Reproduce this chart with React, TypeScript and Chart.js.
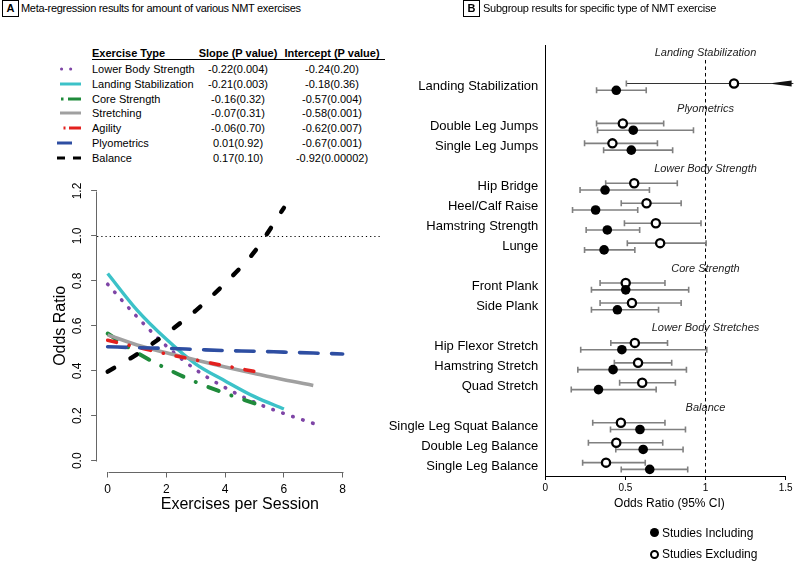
import React, { useEffect, useRef } from "react";
import { Chart, registerables } from "chart.js";

Chart.register(...registerables);

const FONT = "'Liberation Sans', Arial, Helvetica, sans-serif";
Chart.defaults.font.family = FONT;
Chart.defaults.color = "#000";

// ---------------- Panel A data ----------------
const exercisesPerSession = [0, 1, 2, 3, 4, 5, 6, 7, 8];
const exerciseTypes = [
  "Lower Body Strength",
  "Landing Stabilization",
  "Core Strength",
  "Stretching",
  "Agility",
  "Plyometrics",
  "Balance",
];
const lowerBodyStrengthOR = [0.785, 0.64, 0.51, 0.405, 0.325, 0.26, 0.21, 0.166];
const landingStabilizationOR = [0.833, 0.67, 0.54, 0.43, 0.355, 0.285, 0.23];
const coreStrengthOR = [0.566, 0.48, 0.41, 0.35, 0.3, 0.255];
const stretchingOR = [0.56, 0.515, 0.48, 0.448, 0.417, 0.388, 0.36, 0.335];
const agilityOR = [0.536, 0.505, 0.475, 0.448, 0.422, 0.397];
const plyometricsOR = [0.507, 0.503, 0.5, 0.495, 0.49, 0.487, 0.483, 0.479, 0.475];
const balanceOR = [0.396, 0.474, 0.566, 0.668, 0.79, 0.93, 1.125];
const slopeText = ["-0.22(0.004)", "-0.21(0.003)", "-0.16(0.32)", "-0.07(0.31)", "-0.06(0.70)", "0.01(0.92)", "0.17(0.10)"];
const interceptText = ["-0.24(0.20)", "-0.18(0.36)", "-0.57(0.004)", "-0.58(0.001)", "-0.62(0.007)", "-0.67(0.001)", "-0.92(0.00002)"];
const exercisesTicks = [0, 2, 4, 6, 8];
const oddsRatioTicks = [0, 0.2, 0.4, 0.6, 0.8, 1.0, 1.2];
const nullOddsRatio = 1;

// ---------------- Panel B data ----------------
const subgroupHeaders = [
  "Landing Stabilization",
  "Plyometrics",
  "Lower Body Strength",
  "Core Strength",
  "Lower Body Stretches",
  "Balance",
];
const exerciseNames = [
  "Landing Stabilization",
  "Double Leg Jumps",
  "Single Leg Jumps",
  "Hip Bridge",
  "Heel/Calf Raise",
  "Hamstring Strength",
  "Lunge",
  "Front Plank",
  "Side Plank",
  "Hip Flexor Stretch",
  "Hamstring Stretch",
  "Quad Stretch",
  "Single Leg Squat Balance",
  "Double Leg Balance",
  "Single Leg Balance",
];
const exerciseSubgroup = [0, 1, 1, 2, 2, 2, 2, 3, 3, 4, 4, 4, 5, 5, 5];
const includingOR = [0.443, 0.549, 0.537, 0.373, 0.314, 0.387, 0.367, 0.502, 0.45, 0.478, 0.423, 0.332, 0.591, 0.611, 0.652];
const includingLower = [0.32, 0.326, 0.364, 0.217, 0.17, 0.255, 0.245, 0.288, 0.288, 0.221, 0.203, 0.162, 0.407, 0.44, 0.474];
const includingUpper = [0.63, 0.925, 0.795, 0.65, 0.577, 0.589, 0.559, 0.895, 0.707, 1.008, 0.881, 0.692, 0.875, 0.86, 0.889];
const excludingOR = [1.178, 0.484, 0.419, 0.555, 0.632, 0.69, 0.717, 0.502, 0.541, 0.559, 0.579, 0.605, 0.472, 0.443, 0.379];
const excludingLower = [0.506, 0.32, 0.245, 0.377, 0.474, 0.494, 0.512, 0.342, 0.342, 0.409, 0.431, 0.464, 0.296, 0.269, 0.233];
// null = upper limit beyond the axis (drawn with an arrow)
const excludingUpper: (number | null)[] = [null, 0.739, 0.7, 0.824, 0.848, 0.972, 1.004, 0.747, 0.848, 0.763, 0.789, 0.812, 0.747, 0.733, 0.624];
const forestTicks = [0, 0.5, 1, 1.5];

// ---------------- styles ----------------
const seriesColors = ["#7E45A6", "#3CC2C8", "#1F8B3B", "#A0A0A0", "#E3201E", "#2E4EA2", "#000000"];
const seriesWidths = [3.6, 3.4, 4, 3.6, 3.6, 3.6, 4.4];
const seriesDash: number[][] = [[0.5, 10], [], [11, 13.5, 0.1, 13.5], [], [9, 13, 0.1, 13], [18.5, 13.5], [7.5, 19]];
const legendSample = [
  { x1: 61.5, x2: 79.6, dash: "0.1 9", cap: "round" },
  { x1: 60, x2: 81, dash: "", cap: "butt" },
  { x1: 61, x2: 81, dash: "2.5 4.5 13.5 99", cap: "butt" },
  { x1: 60, x2: 81, dash: "", cap: "butt" },
  { x1: 63.5, x2: 81, dash: "2 3.5 12 99", cap: "butt" },
  { x1: 57, x2: 72, dash: "", cap: "butt" },
  { x1: 57, x2: 81, dash: "8 8", cap: "butt" },
];
const seriesValues = [
  lowerBodyStrengthOR,
  landingStabilizationOR,
  coreStrengthOR,
  stretchingOR,
  agilityOR,
  plyometricsOR,
  balanceOR,
];

// ---------------- Panel A chart ----------------
const axisDecorPlugin = {
  id: "axisDecor",
  beforeDatasetsDraw(chart: any, _a: any, opts: any) {
    const { ctx, chartArea, scales } = chart;
    if (opts.refY !== undefined) {
      const y = Math.round(scales.y.getPixelForValue(opts.refY)) + 0.5;
      ctx.save();
      ctx.strokeStyle = "#000";
      ctx.lineWidth = 1;
      ctx.setLineDash([1.2, 3]);
      ctx.beginPath();
      ctx.moveTo(chartArea.left, y);
      ctx.lineTo(chartArea.right, y);
      ctx.stroke();
      ctx.restore();
    }
  },
  afterDraw(chart: any, _a: any, opts: any) {
    const { ctx, chartArea, scales } = chart;
    ctx.save();
    ctx.strokeStyle = opts.color || "#000";
    ctx.lineWidth = 1;
    if (opts.xLine) {
      const t = scales.x.ticks;
      const y = Math.round(chartArea.bottom) + 0.5;
      ctx.beginPath();
      ctx.moveTo(Math.round(scales.x.getPixelForValue(t[0].value)) + 0.5, y);
      ctx.lineTo(Math.round(scales.x.getPixelForValue(t[t.length - 1].value)) + 0.5, y);
      ctx.stroke();
    }
    if (opts.yLine) {
      const t = scales.y.ticks;
      const x = Math.round(chartArea.left) - 0.5;
      ctx.beginPath();
      ctx.moveTo(x, Math.round(scales.y.getPixelForValue(t[0].value)) + 0.5);
      ctx.lineTo(x, Math.round(scales.y.getPixelForValue(t[t.length - 1].value)) + 0.5);
      ctx.stroke();
    }
    ctx.restore();
  },
};

function makeLeftConfig(): any {
  return {
    type: "line",
    data: {
      datasets: exerciseTypes.map((name, i) => ({
        label: name,
        data: seriesValues[i].map((v, j) => ({ x: exercisesPerSession[j], y: v })),
        borderColor: seriesColors[i],
        borderWidth: seriesWidths[i],
        borderDash: seriesDash[i],
        borderCapStyle: seriesDash[i].length ? "round" : "butt",
        pointRadius: 0,
        cubicInterpolationMode: "monotone",
        fill: false,
        order: exerciseTypes.length - i,
      })),
    },
    options: {
      animation: false,
      responsive: false,
      layout: { padding: { left: 0, top: 20.2, right: 17.4, bottom: 0 } },
      plugins: {
        legend: { display: false },
        tooltip: { enabled: false },
        axisDecor: { refY: nullOddsRatio, xLine: true, yLine: true, color: "#666" },
      },
      scales: {
        x: {
          type: "linear",
          min: -0.36,
          max: 9.36,
          afterBuildTicks: (s: any) => {
            s.ticks = exercisesTicks.map((value) => ({ value }));
          },
          afterFit: (s: any) => {
            s.height = 90.5;
          },
          grid: { drawOnChartArea: false, drawTicks: true, tickLength: 6, color: "#666" },
          border: { display: false },
          ticks: {
            font: { size: 12 },
            color: "#000",
            padding: 5,
            autoSkip: false,
            maxRotation: 0,
            callback: (v: any) => String(v),
          },
          title: {
            display: true,
            text: "Exercises per Session",
            font: { size: 16 },
            color: "#000",
            padding: { top: 0, bottom: 47.4 },
          },
        },
        y: {
          type: "linear",
          min: -0.048,
          max: 1.248,
          afterBuildTicks: (s: any) => {
            s.ticks = oddsRatioTicks.map((value) => ({ value }));
          },
          afterFit: (s: any) => {
            s.width = 97.1;
          },
          grid: { drawOnChartArea: false, drawTicks: true, tickLength: 6, color: "#666" },
          border: { display: false },
          ticks: {
            font: { size: 12 },
            color: "#000",
            padding: 5,
            autoSkip: false,
            minRotation: 90,
            maxRotation: 90,
            crossAlign: "center",
            callback: (v: any) => Number(v).toFixed(1),
          },
          title: {
            display: true,
            text: "Odds Ratio",
            font: { size: 16 },
            color: "#000",
            padding: { top: 51.4, bottom: 0 },
          },
        },
      },
    },
    plugins: [axisDecorPlugin],
  };
}

// ---------------- Panel B chart ----------------
const headerGap = [2, 1, 1, 1, 1, 1];
function computeSlots() {
  const headerSlots: number[] = [];
  const rowSlots: number[] = [];
  let slot = 0;
  subgroupHeaders.forEach((_h, g) => {
    headerSlots.push(slot);
    slot += headerGap[g];
    exerciseSubgroup.forEach((sg) => {
      if (sg === g) rowSlots.push(slot++);
    });
  });
  return { headerSlots, rowSlots };
}
const { headerSlots, rowSlots } = computeSlots();
const EXCL_SHIFT = -0.17;
const INCL_SHIFT = 0.17;
const FOREST_MAX = 1.55;

const forestPlugin = {
  id: "forestDecor",
  beforeDatasetsDraw(chart: any) {
    const { ctx, chartArea, scales } = chart;
    const x = Math.round(scales.x.getPixelForValue(nullOddsRatio)) + 0.5;
    ctx.save();
    ctx.strokeStyle = "#000";
    ctx.lineWidth = 1;
    ctx.setLineDash([3.5, 3]);
    ctx.beginPath();
    ctx.moveTo(x, scales.y.getPixelForValue(headerSlots[0] + 0.65));
    ctx.lineTo(x, chartArea.bottom);
    ctx.stroke();
    ctx.setLineDash([]);
    ctx.fillStyle = "#222";
    ctx.font = `italic 11px ${FONT}`;
    ctx.textAlign = "center";
    ctx.textBaseline = "middle";
    subgroupHeaders.forEach((h, g) => {
      const y = scales.y.getPixelForValue(headerSlots[g] + (g === 0 ? 0.28 : 0.1));
      ctx.fillText(h, x, y);
    });
    ctx.restore();
  },
  afterDatasetsDraw(chart: any) {
    const { ctx, chartArea, scales } = chart;
    ctx.save();
    ctx.fillStyle = "#111";
    excludingUpper.forEach((u, i) => {
      if (u !== null) return;
      const y = scales.y.getPixelForValue(rowSlots[i] + EXCL_SHIFT);
      const xe = chartArea.right - 2;
      ctx.beginPath();
      ctx.moveTo(xe - 19, y - 0.6);
      ctx.lineTo(xe, y - 3);
      ctx.lineTo(xe, y + 3);
      ctx.lineTo(xe - 19, y + 0.6);
      ctx.closePath();
      ctx.fill();
    });
    ctx.restore();
  },
  afterDraw(chart: any) {
    const { ctx, chartArea, scales } = chart;
    const t = scales.x.ticks;
    const y = Math.round(chartArea.bottom) + 0.5;
    ctx.save();
    ctx.strokeStyle = "#000";
    ctx.lineWidth = 1;
    ctx.beginPath();
    ctx.moveTo(scales.x.getPixelForValue(t[0].value), y);
    ctx.lineTo(scales.x.getPixelForValue(t[t.length - 1].value), y);
    ctx.stroke();
    ctx.restore();
  },
};

function makeRightConfig(): any {
  const ciDatasets: any[] = [];
  exerciseNames.forEach((name, i) => {
    const offscale = excludingUpper[i] === null;
    ciDatasets.push({
      type: "line",
      label: `${name} excluding CI`,
      data: [
        { x: excludingLower[i], y: rowSlots[i] + EXCL_SHIFT },
        { x: offscale ? FOREST_MAX : excludingUpper[i], y: rowSlots[i] + EXCL_SHIFT },
      ],
      borderColor: offscale ? "#333" : "#808080",
      borderWidth: offscale ? 1.1 : 1.6,
      pointStyle: "line",
      pointRotation: 90,
      pointRadius: offscale ? [3, 0] : 3,
      pointBorderColor: "#808080",
      pointBorderWidth: 1.6,
      showLine: true,
    });
    ciDatasets.push({
      type: "line",
      label: `${name} including CI`,
      data: [
        { x: includingLower[i], y: rowSlots[i] + INCL_SHIFT },
        { x: includingUpper[i], y: rowSlots[i] + INCL_SHIFT },
      ],
      borderColor: "#808080",
      borderWidth: 1.6,
      pointStyle: "line",
      pointRotation: 90,
      pointRadius: 3,
      pointBorderColor: "#808080",
      pointBorderWidth: 1.6,
      showLine: true,
    });
  });
  const labelBySlot: Record<number, string> = {};
  rowSlots.forEach((s, i) => (labelBySlot[s] = exerciseNames[i]));
  return {
    type: "scatter",
    data: {
      datasets: [
        {
          label: "Studies Including",
          data: includingOR.map((v, i) => ({ x: v, y: rowSlots[i] + INCL_SHIFT })),
          pointRadius: 4.8,
          pointBackgroundColor: "#000",
          pointBorderWidth: 0,
          pointBorderColor: "#000",
        },
        {
          label: "Studies Excluding",
          data: excludingOR.map((v, i) => ({ x: v, y: rowSlots[i] + EXCL_SHIFT })),
          pointRadius: 4.1,
          pointBackgroundColor: "#fff",
          pointBorderWidth: 2.3,
          pointBorderColor: "#000",
        },
        ...ciDatasets,
      ],
    },
    options: {
      animation: false,
      responsive: false,
      layout: { padding: { left: 0, top: 45, right: 0, bottom: 0 } },
      plugins: { legend: { display: false }, tooltip: { enabled: false } },
      scales: {
        x: {
          type: "linear",
          min: 0,
          max: FOREST_MAX,
          afterBuildTicks: (s: any) => {
            s.ticks = forestTicks.map((value) => ({ value }));
          },
          afterFit: (s: any) => {
            s.height = 86;
          },
          grid: { drawOnChartArea: false, drawTicks: true, tickLength: 4, color: "#000" },
          border: { display: false },
          ticks: { font: { size: 10 }, color: "#000", padding: 2, autoSkip: false, maxRotation: 0, callback: (v: any) => String(v) },
          title: {
            display: true,
            text: "Odds Ratio (95% CI)",
            font: { size: 12 },
            color: "#000",
            padding: { top: 0, bottom: 50.8 },
          },
        },
        y: {
          type: "linear",
          reverse: true,
          min: -0.1,
          max: 21.5,
          afterBuildTicks: (s: any) => {
            s.ticks = rowSlots.map((value) => ({ value }));
          },
          afterFit: (s: any) => {
            s.width = 175.3;
          },
          grid: { display: false, drawTicks: false },
          border: { display: true, color: "#000", width: 1 },
          ticks: {
            font: { size: 13 },
            color: "#000",
            padding: 7,
            autoSkip: false,
            callback: (v: any) => labelBySlot[v] ?? "",
          },
        },
      },
    },
    plugins: [forestPlugin],
  };
}

function ChartCanvas({ makeConfig, left, top, width, height }: any) {
  const ref = useRef<HTMLCanvasElement>(null);
  useEffect(() => {
    const chart = new Chart(ref.current as HTMLCanvasElement, makeConfig());
    return () => chart.destroy();
  }, []);
  return (
    <canvas
      ref={ref}
      width={width}
      height={height}
      style={{ position: "absolute", left, top, width, height }}
    />
  );
}

const abs = (l: number, t: number, extra: any = {}) => ({ position: "absolute" as const, left: l, top: t, ...extra });

export default function App() {
  const rowY = (i: number) => 69 + i * 14.8;
  return (
    <div
      style={{
        position: "absolute",
        left: 0,
        top: 0,
        width: 800,
        height: 562,
        overflow: "hidden",
        background: "#fff",
        fontFamily: FONT,
        color: "#000",
      }}
    >
      {/* Panel A header */}
      <div
        style={abs(2, 0, {
          width: 15,
          height: 15,
          border: "1px solid #000",
          fontWeight: "bold",
          fontSize: 11,
          lineHeight: "15px",
          textAlign: "center",
        })}
      >
        A
      </div>
      <div style={abs(21, 1, { fontSize: 11, lineHeight: "14px", letterSpacing: "-0.3px", whiteSpace: "nowrap" })}>
        Meta-regression results for amount of various NMT exercises
      </div>

      {/* Panel A legend table */}
      <div style={abs(92, 46, { fontSize: 11, fontWeight: "bold", lineHeight: "14px", whiteSpace: "nowrap" })}>Exercise Type</div>
      <div style={abs(188, 46, { width: 100, fontSize: 11, fontWeight: "bold", lineHeight: "14px", textAlign: "center", whiteSpace: "nowrap" })}>
        Slope (P value)
      </div>
      <div style={abs(282, 46, { width: 100, fontSize: 11, fontWeight: "bold", lineHeight: "14px", textAlign: "center", whiteSpace: "nowrap" })}>
        Intercept (P value)
      </div>
      <div style={abs(92, 59, { width: 293, height: 0, borderTop: "1px solid #000" })} />
      {exerciseTypes.map((name, i) => (
        <React.Fragment key={name}>
          <svg style={abs(0, rowY(i) - 5)} width={90} height={10}>
            <line
              x1={legendSample[i].x1}
              x2={legendSample[i].x2}
              y1={5}
              y2={5}
              stroke={seriesColors[i]}
              strokeWidth={3}
              strokeDasharray={legendSample[i].dash || undefined}
              strokeLinecap={legendSample[i].cap as any}
            />
          </svg>
          <div style={abs(92, rowY(i) - 7, { fontSize: 11, lineHeight: "14px", whiteSpace: "nowrap" })}>{name}</div>
          <div style={abs(188, rowY(i) - 7, { width: 100, fontSize: 11, lineHeight: "14px", textAlign: "center", whiteSpace: "nowrap" })}>
            {slopeText[i]}
          </div>
          <div style={abs(282, rowY(i) - 7, { width: 100, fontSize: 11, lineHeight: "14px", textAlign: "center", whiteSpace: "nowrap" })}>
            {interceptText[i]}
          </div>
        </React.Fragment>
      ))}

      <ChartCanvas makeConfig={makeLeftConfig} left={0} top={160} width={400} height={402} />
      <ChartCanvas makeConfig={makeRightConfig} left={370} top={0} width={430} height={562} />

      {/* Panel B header */}
      <div
        style={abs(463, 0, {
          width: 15,
          height: 15,
          border: "1px solid #000",
          fontWeight: "bold",
          fontSize: 11,
          lineHeight: "15px",
          textAlign: "center",
        })}
      >
        B
      </div>
      <div style={abs(483, 1, { fontSize: 11, lineHeight: "14px", letterSpacing: "-0.25px", whiteSpace: "nowrap" })}>
        Subgroup results for specific type of NMT exercise
      </div>

      {/* Panel B legend */}
      <div style={abs(649.5, 528.2, { width: 9, height: 9, borderRadius: "50%", background: "#000" })} />
      <div style={abs(662, 525.5, { fontSize: 12, lineHeight: "14px", whiteSpace: "nowrap" })}>Studies Including</div>
      <div style={abs(649.5, 549.8, { width: 9, height: 9, borderRadius: "50%", border: "2px solid #000", boxSizing: "border-box", background: "#fff" })} />
      <div style={abs(662, 547.2, { fontSize: 12, lineHeight: "14px", whiteSpace: "nowrap" })}>Studies Excluding</div>
    </div>
  );
}
